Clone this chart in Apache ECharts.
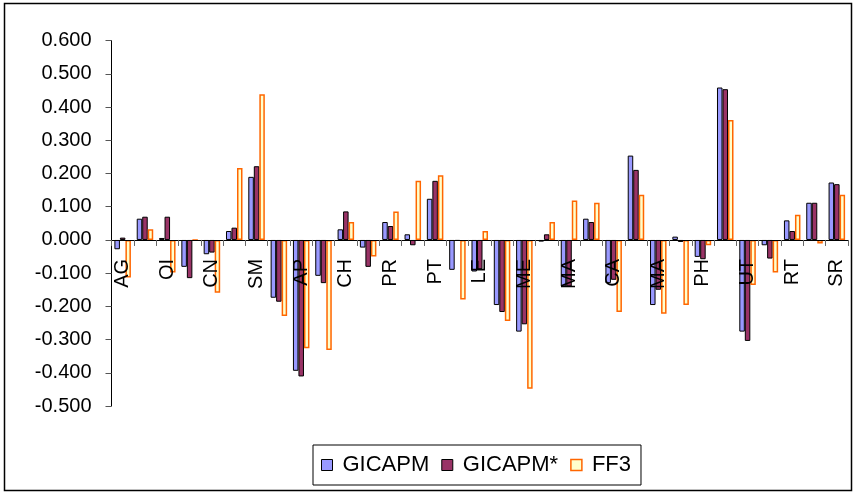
<!DOCTYPE html>
<html>
<head>
<meta charset="utf-8">
<script src="https://cdn.jsdelivr.net/npm/echarts@6/dist/echarts.min.js"></script>
<style>
html,body{margin:0;padding:0;background:#fff;}
#chart{width:854px;height:493px;}
</style>
</head>
<body>
<div id="chart"></div>
<script>
var categories = ['AG','','OI','','CN','','SM','','AP','','CH','','PR','','PT','','LE','','ME','','MA','','CA','','MA','','PH','','UT','','RT','','SR'];
var gicapm = [-0.028,0.064,0.006,-0.081,-0.043,0.027,0.190,-0.174,-0.394,-0.108,0.032,-0.023,0.054,0.017,0.124,-0.090,-0.095,-0.196,-0.276,-0.005,-0.140,0.064,-0.130,0.254,-0.196,0.010,-0.051,0.459,-0.276,-0.016,0.059,0.112,0.173];
var gicapmStar = [0.007,0.070,0.070,-0.115,-0.038,0.037,0.222,-0.186,-0.411,-0.130,0.086,-0.081,0.042,-0.016,0.178,-0.003,-0.088,-0.217,-0.254,0.017,-0.140,0.054,-0.120,0.211,-0.150,-0.006,-0.058,0.454,-0.304,-0.056,0.027,0.112,0.168];
var ff3 = [-0.113,0.032,-0.098,0.000,-0.159,0.217,0.439,-0.229,-0.326,-0.331,0.054,-0.050,0.086,0.178,0.195,-0.179,0.027,-0.244,-0.448,0.054,0.119,0.112,-0.217,0.136,-0.222,-0.196,-0.016,0.361,-0.136,-0.098,0.076,-0.011,0.136];
var seriesNames = ['GICAPM','GICAPM*','FF3'];
var yMin = -0.5, yMax = 0.6, yStep = 0.1;

var FONT = 'Arial, "Liberation Sans", sans-serif';
var gridTop = 40.7, gridBottom = 87, H = 493;
var plotH = H - gridTop - gridBottom;
// distance from grid bottom to the zero line, so the category axis sits on y = 0
var zeroOffset = -(plotH * (0 - yMin) / (yMax - yMin));

var chart = echarts.init(document.getElementById('chart'), null, {renderer:'canvas'});
chart.setOption({
  animation:false,
  backgroundColor:'#fff',
  graphic:[{type:'rect', shape:{x:4.5,y:3.5,width:847,height:487}, style:{fill:'none', stroke:'#000', lineWidth:1.5}, z:-10}],
  grid:{left:111.5, right:6, top:gridTop, bottom:gridBottom, containLabel:false},
  legend:{
    data:[
      {name:'GICAPM', itemStyle:{color:'#9999FF', borderColor:'#000', borderWidth:1}},
      {name:'GICAPM*', itemStyle:{color:'#993366', borderColor:'#000', borderWidth:1}},
      {name:'FF3', itemStyle:{color:'#FFFFCC', borderColor:'#FF6600', borderWidth:1.5}}
    ],
    left:313, top:445, orient:'horizontal',
    padding:[9,10,9,8], borderColor:'#000', borderWidth:1,
    itemWidth:11, itemHeight:11, itemGap:12, icon:'rect',
    textStyle:{fontSize:22, fontFamily:FONT, color:'#000', padding:[0,0,0,5]}
  },
  xAxis:{
    type:'category', data:categories, z:5, position:'bottom', offset:zeroOffset,
    axisLine:{onZero:false, lineStyle:{color:'#000', width:1}},
    axisTick:{show:true, interval:0, alignWithLabel:false, length:6, lineStyle:{color:'#666'}},
    axisLabel:{interval:1, rotate:90, margin:19, fontSize:20, fontFamily:FONT, color:'#000'},
    splitLine:{show:false}
  },
  yAxis:{
    type:'value', min:yMin, max:yMax, interval:yStep,
    axisLine:{show:true, lineStyle:{color:'#000', width:1}},
    axisTick:{show:true, length:6, lineStyle:{color:'#555'}},
    axisLabel:{margin:20, fontSize:20, fontFamily:FONT, color:'#000', formatter:function(v){return (Math.round(v*1000)/1000).toFixed(3);}},
    splitLine:{show:false}
  },
  series:[
    {name:seriesNames[0], type:'bar', data:gicapm, barGap:'0%', barCategoryGap:'26%', itemStyle:{color:'#9999FF', borderColor:'#000', borderWidth:1}},
    {name:seriesNames[1], type:'bar', data:gicapmStar, barGap:'0%', barCategoryGap:'26%', itemStyle:{color:'#993366', borderColor:'#000', borderWidth:1}},
    {name:seriesNames[2], type:'bar', data:ff3, barGap:'0%', barCategoryGap:'26%', itemStyle:{color:'#FFFFCC', borderColor:'#FF6600', borderWidth:1.5}}
  ]
});
</script>
</body>
</html>
